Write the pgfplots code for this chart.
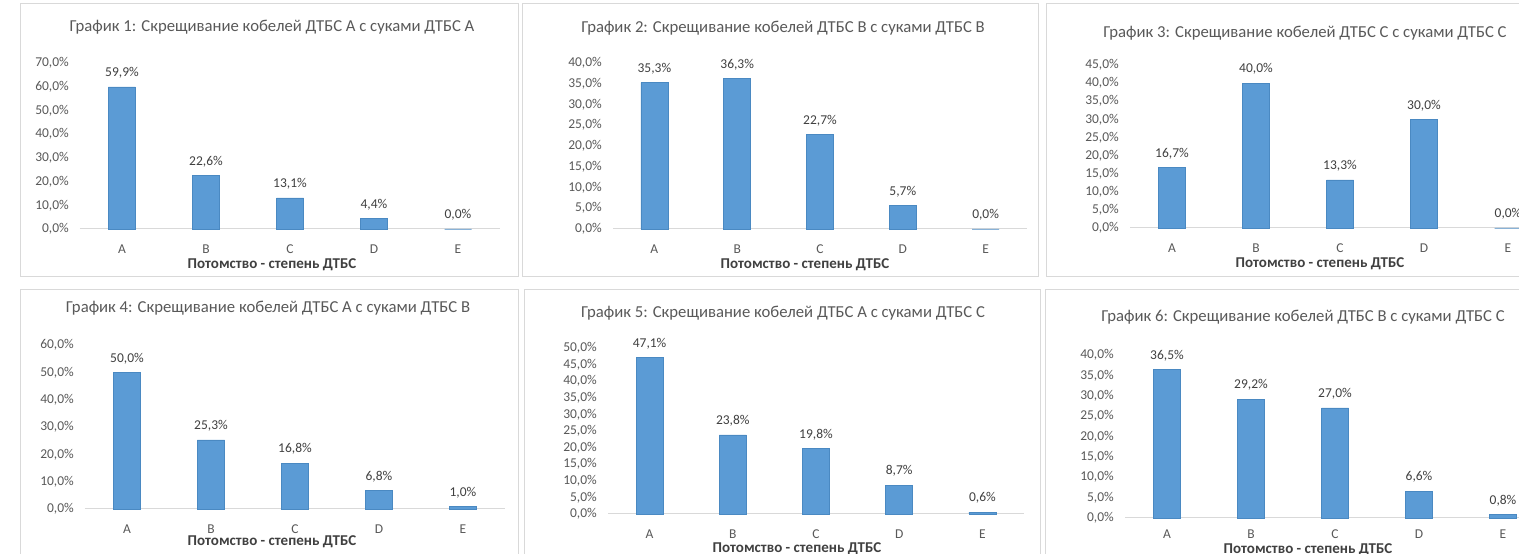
\documentclass[border=0pt]{standalone}
\usepackage{fontspec}
\setmainfont{Carlito}
\usepackage{pgfplots}
\pgfplotsset{compat=1.18}

\definecolor{barblue}{HTML}{5B9BD5}
\definecolor{baredge}{HTML}{4A89C2}
\definecolor{txtgray}{HTML}{595959}
\definecolor{lblgray}{HTML}{404040}
\definecolor{linegray}{HTML}{D9D9D9}

\pgfplotsset{
  panel/.style={
    scale only axis, width=420pt, height=166pt,
    anchor=south west,
    ybar, bar width=27pt,
    xmin=-0.5, xmax=4.5, ymin=0,
    xtick={0,...,4}, xticklabels={A,B,C,D,E},
    axis lines*=left,
    y axis line style={draw=none},
    x axis line style={draw=linegray, line width=1pt},
    tick style={draw=none},
    clip=false,
    xticklabel style={anchor=center, yshift=-16pt, font=\fontsize{13.5}{15}\selectfont, text=txtgray},
    yticklabel style={anchor=east, inner sep=0pt, xshift=-11pt, font=\fontsize{13.5}{15}\selectfont, text=txtgray},
    yticklabel={\pgfmathprintnumber[assume math mode=true,fixed,fixed zerofill,precision=1,use comma]{\tick}\%},
    nodes near coords={\pgfmathprintnumber[assume math mode=true,fixed,fixed zerofill,precision=1,use comma]{\pgfplotspointmeta}\%},
    every node near coord/.append style={anchor=center, yshift=14pt, font=\fontsize{13.5}{15}\selectfont, text=lblgray},
  },
  bars/.style={fill=barblue, draw=baredge, line width=0.6pt},
}

\newcommand{\ttl}[1]{\fontsize{16.7}{19}\selectfont\color{txtgray}#1}
\newcommand{\xlab}{\fontsize{15}{17}\selectfont\bfseries\color{lblgray}Потомство - степень ДТБС}

\begin{document}
\begin{tikzpicture}[x=1pt,y=1pt]
\useasboundingbox (0,0) rectangle (1519,554);
\clip (0,0) rectangle (1519,554);
\fill[white] (0,0) rectangle (1519,554);

% panel frames
\draw[linegray, line width=1pt] (20,550) rectangle (518,277);
\draw[linegray, line width=1pt] (522,550) rectangle (1038,277);
\draw[linegray, line width=1pt] (1046,550) rectangle (1530,277);
\draw[linegray, line width=1pt] (20,264) rectangle (518,-10);
\draw[linegray, line width=1pt] (524,264) rectangle (1040,-10);
\draw[linegray, line width=1pt] (1045,264) rectangle (1530,-10);

% 1: A x A
\begin{axis}[panel, at={(80pt,325pt)}, ymax=70, ytick={0,10,...,70}]
\addplot[bars] coordinates {(0,59.9) (1,22.6) (2,13.1) (3,4.4) (4,0.0)};
\end{axis}
% 2: B x B
\begin{axis}[panel, at={(613pt,325pt)}, width=414pt, ymax=40, ytick={0,5,...,40}]
\addplot[bars] coordinates {(0,35.3) (1,36.3) (2,22.7) (3,5.7) (4,0.0)};
\end{axis}
% 3: C x C
\begin{axis}[panel, at={(1130pt,326pt)}, height=163pt, ymax=45, ytick={0,5,...,45}]
\addplot[bars] coordinates {(0,16.7) (1,40.0) (2,13.3) (3,30.0) (4,0.0)};
\end{axis}
% 4: A x B
\begin{axis}[panel, at={(85pt,45pt)}, height=164pt, ymax=60, ytick={0,10,...,60}]
\addplot[bars] coordinates {(0,50.0) (1,25.3) (2,16.8) (3,6.8) (4,1.0)};
\end{axis}
% 5: A x C
\begin{axis}[panel, at={(608pt,40pt)}, width=416pt, ymax=50, ytick={0,5,...,50}]
\addplot[bars] coordinates {(0,47.1) (1,23.8) (2,19.8) (3,8.7) (4,0.6)};
\end{axis}
% 6: B x C
\begin{axis}[panel, at={(1125pt,36pt)}, height=163pt, ymax=40, ytick={0,5,...,40},
  xticklabel style={yshift=4pt}]
\addplot[bars] coordinates {(0,36.5) (1,29.2) (2,27.0) (3,6.6) (4,0.8)};
\end{axis}

% titles
\node at (272,527) {\ttl{График 1: Скрещивание кобелей ДТБС А с суками ДТБС А}};
\node at (783,526) {\ttl{График 2: Скрещивание кобелей ДТБС В с суками ДТБС В}};
\node at (1305,521) {\ttl{График 3: Скрещивание кобелей ДТБС С с суками ДТБС С}};
\node at (268,246) {\ttl{График 4: Скрещивание кобелей ДТБС А с суками ДТБС В}};
\node at (783,241) {\ttl{График 5: Скрещивание кобелей ДТБС А с суками ДТБС С}};
\node at (1303,237) {\ttl{График 6: Скрещивание кобелей ДТБС В с суками ДТБС С}};

% x labels
\node at (272,289) {\xlab};
\node at (805,289) {\xlab};
\node at (1320,290) {\xlab};
\node at (272,12) {\xlab};
\node at (797,5) {\xlab};
\node at (1308,4.5) {\xlab};
\end{tikzpicture}
\end{document}
